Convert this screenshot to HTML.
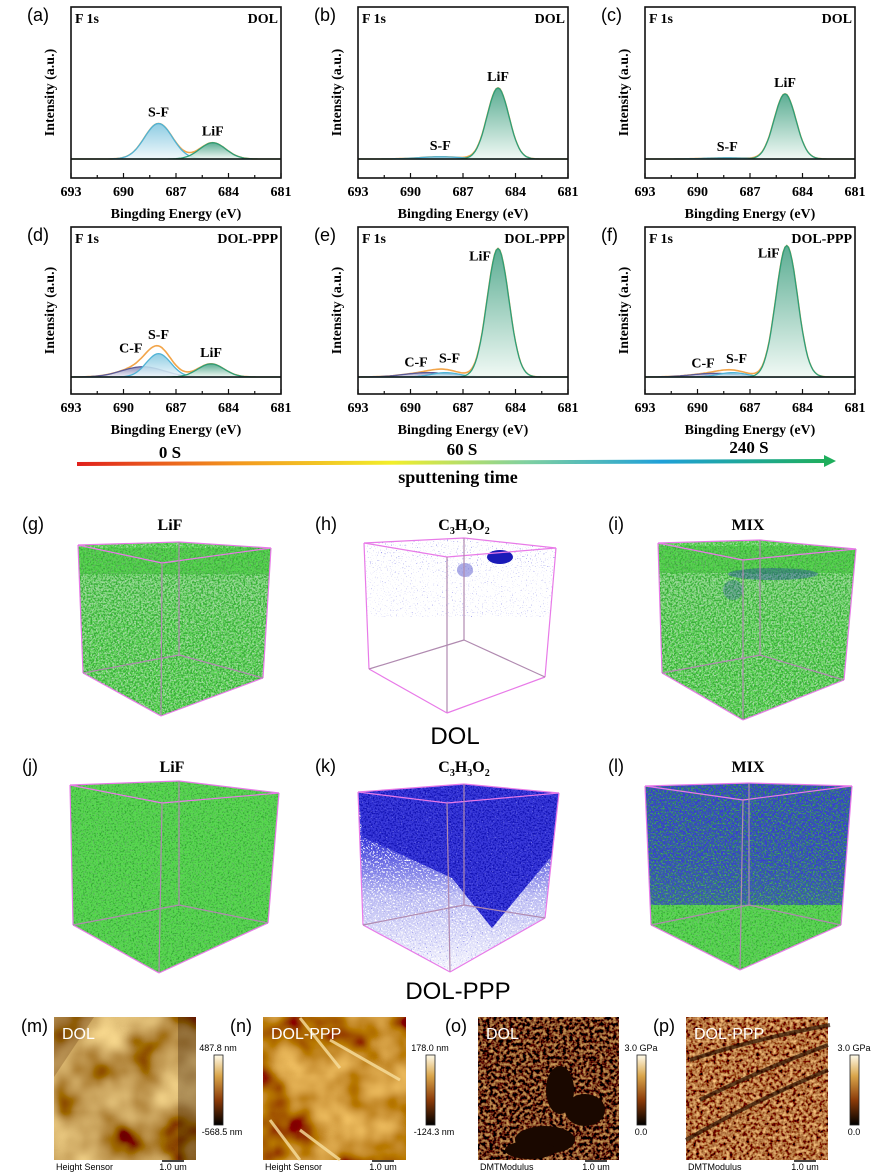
<!DOCTYPE html>
<html><head><meta charset="utf-8">
<style>
html,body{margin:0;padding:0;background:#fff;}
svg{display:block;}
.serif{font-family:"Liberation Serif",serif;font-weight:bold;}
.sans{font-family:"Liberation Sans","DejaVu Sans",sans-serif;}
</style></head>
<body>
<svg id="fig" width="877" height="1173" viewBox="0 0 877 1173" xmlns="http://www.w3.org/2000/svg">
<defs>
  <filter id="gnoise" x="0" y="0" width="100%" height="100%"><feTurbulence type="fractalNoise" baseFrequency="0.6" numOctaves="2" seed="4"/><feColorMatrix type="matrix" values="0 0 0 0 0.1  0 0 0 0 0.7  0 0 0 0 0.08  5 0 0 0 -1.9"/></filter>
  <filter id="gnoise2" x="0" y="0" width="100%" height="100%"><feTurbulence type="fractalNoise" baseFrequency="0.55" numOctaves="2" seed="9"/><feColorMatrix type="matrix" values="0 0 0 0 0.03  0 0 0 0 0.4  0 0 0 0 0.03  5 0 0 0 -2.2"/></filter>
  <filter id="bnoise" x="0" y="0" width="100%" height="100%"><feTurbulence type="fractalNoise" baseFrequency="0.6" numOctaves="2" seed="7"/><feColorMatrix type="matrix" values="0 0 0 0 0.04  0 0 0 0 0.04  0 0 0 0 0.7  5 0 0 0 -1.7"/></filter>
  <filter id="bdots" x="0" y="0" width="100%" height="100%"><feTurbulence type="fractalNoise" baseFrequency="0.8" numOctaves="1" seed="3"/><feColorMatrix type="matrix" values="0 0 0 0 0.2  0 0 0 0 0.2  0 0 0 0 0.8  8 0 0 0 -5.2"/></filter>
  <filter id="afmSoft" x="0" y="0" width="100%" height="100%"><feTurbulence type="fractalNoise" baseFrequency="0.018" numOctaves="3" seed="2"/><feColorMatrix type="matrix" values="1.3 0 0 0 -0.08  1.2 0 0 0 -0.25  0.6 0 0 0 -0.2  0 0 0 0 1"/></filter>
  <filter id="afmSoft2" x="0" y="0" width="100%" height="100%"><feTurbulence type="fractalNoise" baseFrequency="0.02" numOctaves="3" seed="11"/><feColorMatrix type="matrix" values="1.3 0 0 0 -0.1  1.1 0 0 0 -0.3  0.4 0 0 0 -0.18  0 0 0 0 1"/></filter>
  <filter id="afmRough" x="0" y="0" width="100%" height="100%"><feTurbulence type="fractalNoise" baseFrequency="0.3" numOctaves="2" seed="5"/><feColorMatrix type="matrix" values="1.5 0 0 0 -0.57  1.0 0 0 0 -0.46  0.3 0 0 0 -0.14  0 0 0 0 1"/></filter>
  <filter id="afmRough2" x="0" y="0" width="100%" height="100%"><feTurbulence type="fractalNoise" baseFrequency="0.3" numOctaves="2" seed="8"/><feColorMatrix type="matrix" values="1.6 0 0 0 -0.36  1.2 0 0 0 -0.43  0.5 0 0 0 -0.2  0 0 0 0 1"/></filter>
  <linearGradient id="arrowGrad" x1="0" x2="1" y1="0" y2="0">
    <stop offset="0" stop-color="#e0201c"/><stop offset="0.22" stop-color="#f39a1e"/><stop offset="0.42" stop-color="#f2ee2a"/>
    <stop offset="0.6" stop-color="#7fd0a0"/><stop offset="0.78" stop-color="#1fa0d8"/><stop offset="1" stop-color="#1fae5c"/>
  </linearGradient>
  <linearGradient id="cbar" x1="0" x2="0" y1="0" y2="1">
    <stop offset="0" stop-color="#fffbea"/><stop offset="0.3" stop-color="#d9a54a"/><stop offset="0.65" stop-color="#8a3a08"/><stop offset="1" stop-color="#000"/>
  </linearGradient>
  <linearGradient id="fillSF" x1="0" x2="0" y1="0" y2="1"><stop offset="0" stop-color="#7cc4de"/><stop offset="1" stop-color="#eef7fb"/></linearGradient>
  <linearGradient id="fillLiF" x1="0" x2="0" y1="0" y2="1"><stop offset="0" stop-color="#3f9f80"/><stop offset="1" stop-color="#eef8f3"/></linearGradient>
  <linearGradient id="fillCF" x1="0" x2="0" y1="0" y2="1"><stop offset="0" stop-color="#7c7cb0"/><stop offset="1" stop-color="#eeeef6"/></linearGradient>
  <linearGradient id="topDense" x1="0" x2="0" y1="0" y2="1">
    <stop offset="0" stop-color="#fff"/><stop offset="0.15" stop-color="#fff"/><stop offset="0.22" stop-color="#888"/><stop offset="0.5" stop-color="#ddd"/><stop offset="1" stop-color="#fff"/>
  </linearGradient>
  <linearGradient id="whiteFade" x1="0" x2="0" y1="0" y2="1">
    <stop offset="0" stop-color="#000"/><stop offset="0.3" stop-color="#000"/><stop offset="0.6" stop-color="#aaa"/><stop offset="1" stop-color="#f4f4f4"/>
  </linearGradient>
  <linearGradient id="blueTop" x1="0" x2="0" y1="0" y2="1">
    <stop offset="0" stop-color="#fff"/><stop offset="0.4" stop-color="#ddd"/><stop offset="0.8" stop-color="#555"/><stop offset="1" stop-color="#000"/>
  </linearGradient>
</defs>
<g id="xps"></g>
<g id="arrow">
  <line x1="77" y1="464" x2="826" y2="461" stroke="url(#arrowGrad)" stroke-width="4"/>
  <polygon points="836,461 824,455 824,467" fill="#1fae5c"/>
  <text x="170" y="458" class="serif" font-size="17" text-anchor="middle">0 S</text>
  <text x="462" y="455" class="serif" font-size="17" text-anchor="middle">60 S</text>
  <text x="749" y="453" class="serif" font-size="17" text-anchor="middle">240 S</text>
  <text x="458" y="483" class="serif" font-size="18" text-anchor="middle">sputtening time</text>
</g>
<g id="cubes"></g>
<text x="455" y="744" class="sans" font-size="24" text-anchor="middle">DOL</text>
<text x="458" y="999" class="sans" font-size="24" text-anchor="middle">DOL-PPP</text>
<g id="afm"></g>
</svg>
<script>
const energyTicks=[693,690,687,684,681];
const panelLetters=['a','b','c','d','e','f'];
const panelSamples=['DOL','DOL','DOL','DOL-PPP','DOL-PPP','DOL-PPP'];
const peakNames=[['S-F','LiF'],['S-F','LiF'],['S-F','LiF'],['C-F','S-F','LiF'],['C-F','S-F','LiF'],['C-F','S-F','LiF']];
const peakCenters=[[688.0,684.9],[688.3,685.0],[688.3,685.0],[688.9,688.0,685.0],[689.0,688.0,685.0],[689.0,688.0,684.9]];
const peakHeights=[[0.24,0.11],[0.015,0.48],[0.008,0.44],[0.07,0.16,0.09],[0.03,0.03,0.88],[0.025,0.03,0.9]];
const peakSigmas=[[0.8,0.75],[1.2,0.62],[1.2,0.62],[1.2,0.7,0.75],[1.3,0.8,0.62],[1.3,0.8,0.62]];

const NS='http://www.w3.org/2000/svg';
function mk(tag,attrs,parent){const e=document.createElementNS(NS,tag);for(const k in attrs)e.setAttribute(k,attrs[k]);if(parent)parent.appendChild(e);return e;}
const colorOf={'S-F':['#4fb3d6','url(#fillSF)'],'LiF':['#2e9e78','url(#fillLiF)'],'C-F':['#5a5a98','url(#fillCF)']};

const xps=document.getElementById('xps');
const colX=[71,358,645], W=210;
const rowTop=[7,227], rowBot=[178,394], rowBase=[159,377];
for(let p=0;p<6;p++){
  const col=p%3,row=Math.floor(p/3);
  const x0=colX[col], y0=rowTop[row], y1=rowBot[row], yb=rowBase[row];
  const H=yb-y0-4;
  const g=mk('g',{},xps);
  
  
  const xs=e=>x0+(693-e)/12*W;
  const ys=v=>yb-v*H;
  const comps=peakCenters[p];
  const env=[];
  const N=120;
  for(let i=0;i<=N;i++){const e=693-12*i/N;let s=0;for(let k=0;k<comps.length;k++){s+=peakHeights[p][k]*Math.exp(-0.5*Math.pow((e-comps[k])/peakSigmas[p][k],2));}env.push([e,s]);}
  let de='';env.forEach((q,i)=>{de+=(i?' L':'M')+xs(q[0]).toFixed(1)+','+ys(q[1]).toFixed(1);});
  const ep=mk('path',{d:de,fill:'none',stroke:'#f2a54a','stroke-width':'1.6'},g);
  
  
  for(let k=0;k<comps.length;k++){
    const nm=peakNames[p][k];
    let d='M'+xs(693)+','+yb;
    for(let i=0;i<=N;i++){const e=693-12*i/N;const v=peakHeights[p][k]*Math.exp(-0.5*Math.pow((e-comps[k])/peakSigmas[p][k],2));d+=' L'+xs(e).toFixed(1)+','+ys(v).toFixed(1);}
    d+=' L'+xs(681)+','+yb+'Z';
    const pa=mk('path',{d:d,fill:colorOf[nm][1],'fill-opacity':'0.85',stroke:colorOf[nm][0],'stroke-width':'1.3'},g);
    
    
  }
  const bl=mk('line',{x1:x0,x2:x0+W,y1:yb,y2:yb,stroke:'#111','stroke-width':'1.5'},g);
  
  
  for(let k=0;k<comps.length;k++){
    const nm=peakNames[p][k];
    let s=0;for(let j=0;j<comps.length;j++)s+=peakHeights[p][j]*Math.exp(-0.5*Math.pow((comps[k]-comps[j])/peakSigmas[p][j],2));
    let lx=xs(comps[k]), ly=ys(s)-7;
    if(nm==='C-F'){lx-=12;ly=ys(s)-4;}
    if(nm==='S-F'&&comps.length===3&&p>3){lx+=4;}
    if(nm==='LiF'&&p>=4){lx-=18;ly=ys(s)+12;}
    const t=mk('text',{x:lx,y:ly,'text-anchor':'middle','font-size':'14',class:'serif'},g);
    t.textContent=nm;
    
    
  }
  const fr=mk('rect',{x:x0,y:y0,width:W,height:y1-y0,fill:'none',stroke:'#111','stroke-width':'1.6'},g);
  
  
  for(let e=693;e>=681;e-=1.5){
    const major=energyTicks.includes(e);
    const tk=mk('line',{x1:xs(e),x2:xs(e),y1:y1,y2:y1-(major?5:3),stroke:'#111','stroke-width':'1.2'},g);
    
    
  }
  energyTicks.forEach(e=>{
    const t=mk('text',{x:xs(e),y:y1+18,'text-anchor':'middle','font-size':'14',class:'serif'},g);
    t.textContent=e;
    
    
  });
  const xl=mk('text',{x:x0+W/2,y:y1+40,'text-anchor':'middle','font-size':'14',class:'serif'},g);
  xl.textContent='Bingding Energy (eV)';
  
  
  const yl=mk('text',{x:0,y:0,'text-anchor':'middle','font-size':'14',class:'serif',transform:'translate('+(x0-17)+','+((y0+y1)/2)+') rotate(-90)'},g);
  yl.textContent='Intensity (a.u.)';
  
  
  const f1=mk('text',{x:x0+4,y:y0+16,'font-size':'14',class:'serif'},g);
  f1.textContent='F 1s';
  
  
  const sm=mk('text',{x:x0+W-3,y:y0+16,'font-size':'14','text-anchor':'end',class:'serif'},g);
  sm.textContent=panelSamples[p];
  
  
  const pl=mk('text',{x:x0-44,y:y0+14,'font-size':'18',class:'sans'},g);
  pl.textContent='('+panelLetters[p]+')';
  
  
}

// cubes
const cubes=document.getElementById('cubes');
const cubeDefs=[
 {l:'g',t:'LiF',lx:22,ty:530,tx:170,A:[78,545],B:[179,542],C:[271,548],D:[162,563],E:[83,673],F:[161,716],G:[263,678],Hb:[179,655],kind:'green'},
 {l:'h',t:'C3H3O2',lx:315,ty:530,tx:464,A:[364,543],B:[464,538],C:[556,548],D:[447,557],E:[369,669],F:[447,713],G:[545,677],Hb:[464,640],kind:'sparse'},
 {l:'i',t:'MIX',lx:608,ty:530,tx:748,A:[658,543],B:[760,540],C:[856,549],D:[743,560],E:[662,673],F:[743,720],G:[844,680],Hb:[760,655],kind:'mix'},
 {l:'j',t:'LiF',lx:22,ty:772,tx:172,A:[70,785],B:[179,781],C:[279,793],D:[162,803],E:[73,925],F:[159,973],G:[268,923],Hb:[179,905],kind:'green2'},
 {l:'k',t:'C3H3O2',lx:315,ty:772,tx:464,A:[358,792],B:[464,784],C:[559,793],D:[447,803],E:[363,925],F:[450,972],G:[545,918],Hb:[464,905],kind:'blue'},
 {l:'l',t:'MIX',lx:608,ty:772,tx:748,A:[645,786],B:[749,783],C:[852,786],D:[743,800],E:[651,925],F:[740,970],G:[841,925],Hb:[749,905],kind:'mix2'}
];
cubeDefs.forEach((c,i)=>{
  const g=mk('g',{},cubes);
  
  
  const pts=[c.A,c.B,c.C,c.G,c.F,c.E].map(p=>p.join(',')).join(' ');
  const minx=Math.min(c.A[0],c.E[0]),maxx=Math.max(c.C[0],c.G[0]),miny=Math.min(c.A[1],c.B[1]),maxy=c.F[1];
  const cp=mk('clipPath',{id:'cp'+i},g);mk('polygon',{points:pts},cp);
  const inner=mk('g',{'clip-path':'url(#cp'+i+')'},g);
  const R=(f,mask,op,hfrac)=>{const r=mk('rect',{x:minx,y:miny,width:maxx-minx,height:(maxy-miny)*(hfrac||1),filter:'url(#'+f+')',opacity:op||1},inner);if(mask)r.setAttribute('mask','url(#'+mask+')');return r;};
  const base=(col,op,hfrac,yoff)=>mk('rect',{x:minx,y:miny+(yoff||0),width:maxx-minx,height:(maxy-miny)*(hfrac||1),fill:col,opacity:op},inner);
  const mkMask=(grad)=>{const m=mk('mask',{id:'m'+i+grad,maskUnits:'userSpaceOnUse',x:minx,y:miny,width:maxx-minx,height:maxy-miny},g);mk('rect',{x:minx,y:miny,width:maxx-minx,height:maxy-miny,fill:'url(#'+grad+')'},m);return 'm'+i+grad;};
  if(c.kind==='green'||c.kind==='mix'){
    base('#3aa83a',0.45);base('#1e8a1e',0.5,0.15,6);
    R('gnoise',mkMask('topDense'));R('gnoise2',null,0.9);R('gnoise',null,0.6,0.18);
    if(c.kind==='mix'){mk('ellipse',{cx:c.D[0]+30,cy:c.D[1]+14,rx:45,ry:6,fill:'#1b2fb0',opacity:0.35},inner);
      mk('ellipse',{cx:c.D[0]-10,cy:c.D[1]+30,rx:10,ry:10,fill:'#1b2fb0',opacity:0.25},inner);}
  }
  else if(c.kind==='green2'){base('#2ea82e',0.75);R('gnoise');R('gnoise2');R('gnoise',null,0.9);}
  else if(c.kind==='mix2'){base('#2ea82e',0.7);R('gnoise');R('gnoise2');R('gnoise',null,0.8);
    const m=mkMask('blueTop');
    mk('rect',{x:minx,y:miny,width:maxx-minx,height:(maxy-miny)*0.65,fill:'#1a2aa0',opacity:0.35,mask:'url(#'+m+')'},inner);
    R('bnoise',m,1,0.65);R('bnoise',m,0.8,0.65);R('gnoise2',m,0.5,0.65);}
  else if(c.kind==='blue'){
    R('bnoise');R('bnoise');R('bnoise');
    const m=mkMask('whiteFade');
    mk('rect',{x:minx,y:miny,width:maxx-minx,height:maxy-miny,fill:'#fff',mask:'url(#'+m+')'},inner);
    const cl=mk('clipPath',{id:'ck'+i},g);
    mk('polygon',{points:[c.A,c.B,c.C,[c.C[0]-5,c.C[1]+60],[c.D[0]+45,c.D[1]+125],[c.D[0]+5,c.D[1]+75],[c.A[0]+5,c.A[1]+45]].map(p=>p.join(',')).join(' ')},cl);
    const gg=mk('g',{'clip-path':'url(#ck'+i+')'},inner);
    mk('rect',{x:minx,y:miny,width:maxx-minx,height:maxy-miny,fill:'#1212b4'},gg);
    mk('rect',{x:minx,y:miny,width:maxx-minx,height:maxy-miny,filter:'url(#bnoise)'},gg);
    R('bdots',null,1);}
  else if(c.kind==='sparse'){
    R('bdots',mkMask('topDense'),1,0.45);
    mk('ellipse',{cx:500,cy:557,rx:13,ry:7,fill:'#1a1ab8'},inner);
    mk('ellipse',{cx:465,cy:570,rx:8,ry:7,fill:'#3030c0',opacity:0.4},inner);
  }
  const edges=[[c.A,c.B],[c.B,c.C],[c.C,c.D],[c.D,c.A],[c.A,c.E],[c.D,c.F],[c.C,c.G],[c.E,c.F],[c.F,c.G],[c.B,c.Hb],[c.E,c.Hb],[c.Hb,c.G]];
  edges.forEach((e,j)=>{const ln=mk('line',{x1:e[0][0],y1:e[0][1],x2:e[1][0],y2:e[1][1],stroke:j===5||j>8?'#b08ab0':'#e87ae8','stroke-width':'1.2'},g);
    
    });
  const pl=mk('text',{x:c.lx,y:c.ty,'font-size':'18',class:'sans'},g);
  pl.textContent='('+c.l+')';
  
  
  const tt=mk('text',{x:c.tx,y:c.ty,'font-size':'16','text-anchor':'middle',class:'serif'},g);
  if(c.t==='C3H3O2'){tt.innerHTML='C<tspan font-size="10" dy="4">3</tspan><tspan dy="-4">H</tspan><tspan font-size="10" dy="4">3</tspan><tspan dy="-4">O</tspan><tspan font-size="10" dy="4">2</tspan>';}
  else tt.textContent=c.t;
  
  
});

// AFM
const afm=document.getElementById('afm');
const afmDefs=[
 {l:'m',s:'DOL',x:54,w:142,f:'afmSoft',cb:214,top:'487.8 nm',bot:'-568.5 nm',foot:'Height Sensor'},
 {l:'n',s:'DOL-PPP',x:263,w:143,f:'afmSoft2',cb:426,top:'178.0 nm',bot:'-124.3 nm',foot:'Height Sensor'},
 {l:'o',s:'DOL',x:478,w:141,f:'afmRough',cb:637,top:'3.0 GPa',bot:'0.0',foot:'DMTModulus'},
 {l:'p',s:'DOL-PPP',x:686,w:142,f:'afmRough2',cb:850,top:'3.0 GPa',bot:'0.0',foot:'DMTModulus'}
];
afmDefs.forEach((a,i)=>{
  const g=mk('g',{},afm);
  
  
  const y0=1017,h=143;
  const img=mk('rect',{x:a.x,y:y0,width:a.w,height:h,filter:'url(#'+a.f+')'},g);
  
  
  if(a.l==='m'){mk('path',{d:'M268,1075 l10,-10 l8,15 l-8,22 z',fill:'#fff2c8',opacity:0.85},g);
    mk('path',{d:'M54,1017 h40 l-40,60 z',fill:'#6a3a10',opacity:0.3},g);
    mk('path',{d:'M'+(a.x+a.w-18)+','+y0+' v'+h+' h18 v-'+h+'z',fill:'#2a1200',opacity:0.3},g);}
  if(a.l==='n'){['M300,1018 l40,50','M330,1040 l70,40','M270,1120 l30,40','M300,1130 l40,30'].forEach(d=>mk('path',{d:d,stroke:'#f8e0a0','stroke-width':'3',fill:'none',opacity:0.8},g));}
  if(a.l==='o'){[[545,1140,30,14],[560,1090,14,24],[585,1110,20,16],[530,1150,25,9]].forEach(e=>mk('ellipse',{cx:e[0],cy:e[1],rx:e[2],ry:e[3],fill:'#1a0800'},g));}
  if(a.l==='p'){['M690,1060 q60,-20 140,-35','M700,1100 q60,-30 128,-55','M686,1140 q70,-40 142,-70'].forEach(d=>mk('path',{d:d,stroke:'#2a1000','stroke-width':'4',fill:'none',opacity:0.7},g));}
  const lab=mk('text',{x:a.x+8,y:y0+22,'font-size':'16',fill:'#fff',class:'sans'},g);
  lab.textContent=a.s;
  
  
  const pl=mk('text',{x:a.x-33,y:y0+15,'font-size':'18',class:'sans'},g);
  pl.textContent='('+a.l+')';
  
  
  const cbr=mk('rect',{x:a.cb,y:1055,width:9,height:70,fill:'url(#cbar)',stroke:'#222','stroke-width':'0.8'},g);
  
  
  const t1=mk('text',{x:a.cb+4,y:1051,'font-size':'9','text-anchor':'middle',class:'sans'},g);t1.textContent=a.top;
  
  
  const t2=mk('text',{x:a.cb+(a.bot==='0.0'?4:8),y:1135,'font-size':'9','text-anchor':'middle',class:'sans'},g);t2.textContent=a.bot;
  
  
  const ft=mk('text',{x:a.x+2,y:1170,'font-size':'9',class:'sans'},g);ft.textContent=a.foot;
  
  
  mk('line',{x1:a.x+a.w-34,x2:a.x+a.w-12,y1:1161,y2:1161,stroke:'#444','stroke-width':'2'},g);
  const sb=mk('text',{x:a.x+a.w-23,y:1170,'font-size':'9','text-anchor':'middle',class:'sans'},g);sb.textContent='1.0 um';
  
  
});
</script>
</body></html>
